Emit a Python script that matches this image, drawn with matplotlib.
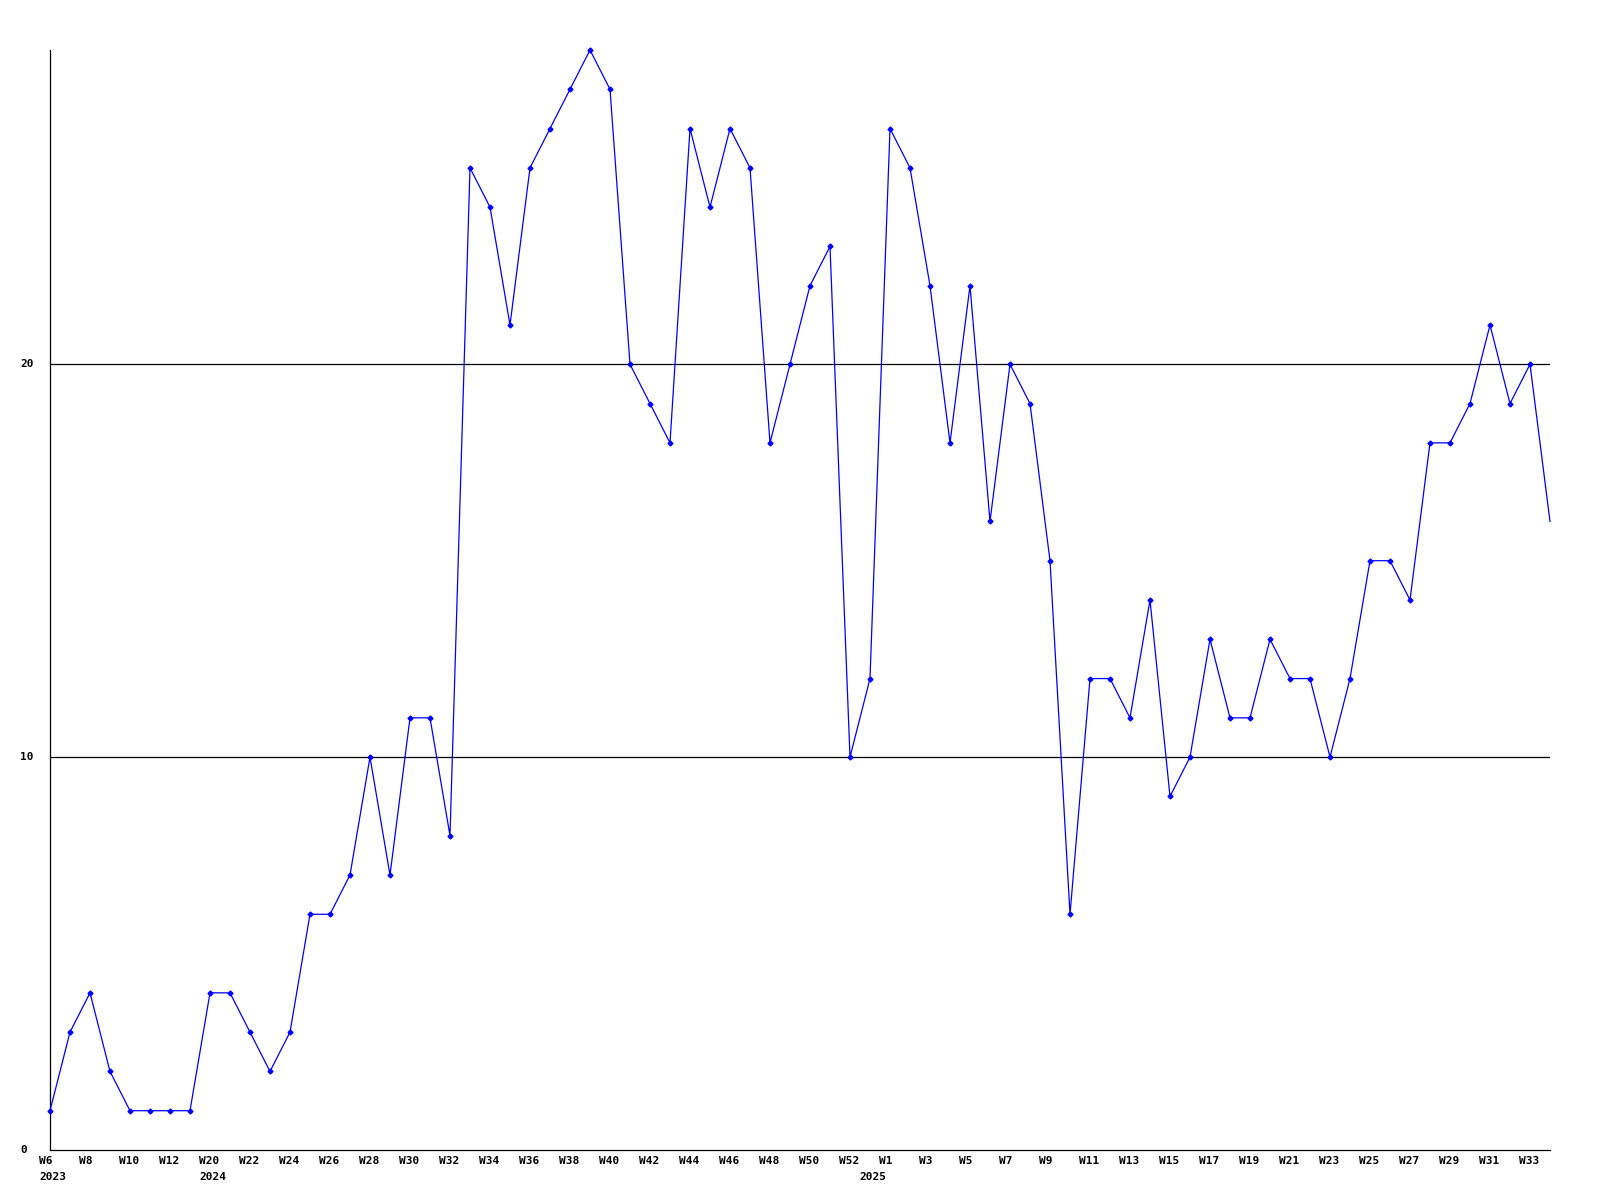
#!/usr/bin/env python3
"""Weekly count line chart -> out.png"""

import matplotlib

matplotlib.use("Agg")
import matplotlib.pyplot as plt  # noqa: E402
from matplotlib import transforms  # noqa: E402

BLUE, BLACK = "#0000ff", "#000000"
FONT = dict(family="DejaVu Sans Mono", weight="bold", fontsize=8)

# week numbers per year, in plotting order
years = ["2023", "2024", "2025"]
weeks_2023 = list(range(6, 14))
weeks_2024 = list(range(20, 53))
weeks_2025 = list(range(0, 35))

values = [
    1, 3, 4, 2, 1, 1, 1, 1,
    4, 4, 3, 2, 3, 6, 6, 7, 10, 7, 11, 11, 8, 25, 24, 21, 25, 26, 27, 28, 27,
    20, 19, 18, 26, 24, 26, 25, 18, 20, 22, 23, 10,
    12, 26, 25, 22, 18, 22, 16, 20, 19, 15, 6, 12, 12, 11, 14, 9, 10, 13, 11,
    11, 13, 12, 12, 10, 12, 15, 15, 14, 18, 18, 19, 21, 19, 20, 16,
]
yticks = [0, 10, 20]


def main():
    fig = plt.figure(figsize=(16, 12), dpi=100)
    ax = fig.add_axes([50 / 1600, 50 / 1200, 1500 / 1600, 1100 / 1200])

    week_labels, year_starts = [], []
    for yr, wks in zip(years, [weeks_2023, weeks_2024, weeks_2025]):
        year_starts.append((len(week_labels), yr))
        week_labels += [f"W{w}" for w in wks]

    xs = list(range(len(values)))
    # the last point sits on the plot edge and gets no marker in the original
    ax.plot(xs, values, "-", color=BLUE, lw=0.9, marker="D", ms=2.5, mec=BLUE,
            mfc=BLUE, markevery=list(range(len(values) - 1)), clip_on=False, zorder=3)

    for t in yticks[1:]:
        ax.axhline(t, color=BLACK, lw=0.9, zorder=1)

    ax.set_xlim(0, len(values) - 1)
    ax.set_ylim(0, max(values))
    for s in ["top", "right"]:
        ax.spines[s].set_visible(False)
    for s in ["left", "bottom"]:
        ax.spines[s].set_linewidth(0.9)
    ax.set_xticks([])
    ax.set_yticks([])

    ylab = transforms.blended_transform_factory(fig.transFigure, ax.transData)
    for t in yticks:
        ax.text(20 / 1600, t, str(t), transform=ylab, ha="left", va="center", **FONT)

    wk = transforms.offset_copy(ax.transData, fig=fig, x=-11, y=-11, units="dots")
    for i in range(0, len(week_labels), 2):
        ax.text(i, 0, week_labels[i], transform=wk, ha="left", va="center",
                clip_on=False, **FONT)
    yr = transforms.offset_copy(ax.transData, fig=fig, x=-11, y=-27, units="dots")
    for i, label in year_starts:
        ax.text(i, 0, label, transform=yr, ha="left", va="center", clip_on=False, **FONT)

    fig.savefig("out.png", dpi=100)
    plt.close(fig)


if __name__ == "__main__":
    main()
